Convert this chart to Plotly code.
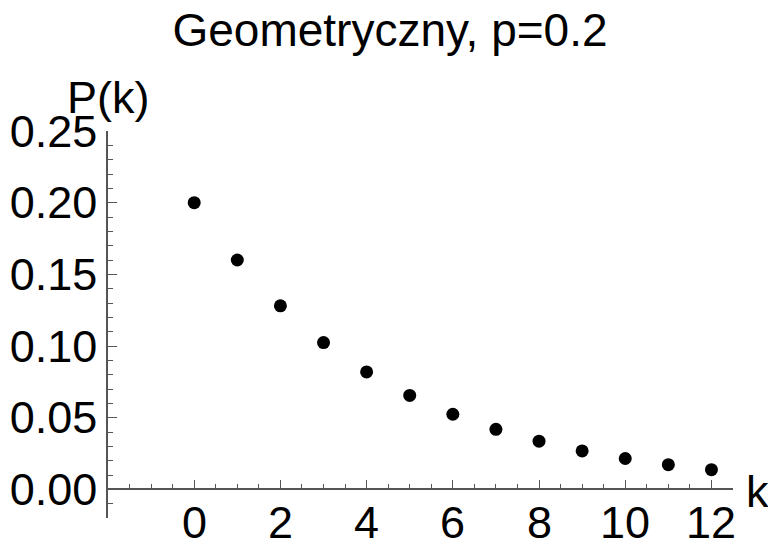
import plotly.graph_objects as go

# geometric distribution, p=0.2
k = [0, 1, 2, 3, 4, 5, 6, 7, 8, 9, 10, 11, 12]
pk = [0.2, 0.16, 0.128, 0.1024, 0.0819, 0.0655, 0.0524, 0.0419, 0.0336, 0.0268, 0.0215, 0.0172, 0.0137]

x_ticks = [0, 2, 4, 6, 8, 10, 12]
y_ticks = [0.00, 0.05, 0.10, 0.15, 0.20, 0.25]
y_tick_labels = ['0.00', '0.05', '0.10', '0.15', '0.20', '0.25']

x_range = [-2, 12.5]
y_range = [-0.02, 0.25]

font = 'Liberation Sans, Arial, sans-serif'
# the page body has an 8px margin, so the figure is drawn 8px smaller
W, H = 776 - 8, 544 - 8
M = dict(l=100, r=43, t=123, b=26)

fig = go.Figure()

fig.add_trace(
    go.Scatter(
        x=k,
        y=pk,
        mode='markers',
        marker=dict(color='black', size=13),
        showlegend=False,
    )
)

# x axis sits at y=0, expressed as a fraction of the plot height
x_axis_pos = (0 - y_range[0]) / (y_range[1] - y_range[0])
plot_h = H - M['t'] - M['b']

fig.update_layout(
    width=W,
    height=H,
    margin=M,
    paper_bgcolor='white',
    plot_bgcolor='white',
    font=dict(family=font, color='black', size=45),
    title=dict(
        text='Geometryczny, p=0.2',
        x=382 / W,
        xref='container',
        xanchor='center',
        y=1 - 22 / H,
        yref='container',
        yanchor='middle',
        font=dict(size=46),
    ),
    xaxis=dict(
        range=x_range,
        anchor='free',
        position=x_axis_pos,
        automargin=False,
        showgrid=False,
        zeroline=False,
        showline=True,
        linecolor='#555',
        linewidth=1.5,
        tickmode='array',
        tickvals=x_ticks,
        showticklabels=False,
        ticks='inside',
        ticklen=9,
        tickcolor='#555',
        tickwidth=1,
        minor=dict(dtick=0.5, tick0=0, ticks='inside', ticklen=5, tickcolor='#555', showgrid=False),
    ),
    yaxis=dict(
        range=y_range,
        automargin=False,
        showgrid=False,
        zeroline=False,
        showline=True,
        linecolor='#555',
        linewidth=1.5,
        tickmode='array',
        tickvals=y_ticks,
        ticktext=y_tick_labels,
        ticks='inside',
        ticklen=9,
        tickcolor='#555',
        tickwidth=1,
        minor=dict(dtick=0.01, tick0=0, ticks='inside', ticklen=5, tickcolor='#555', showgrid=False),
    ),
)

# x tick labels sit close under the axis line (axis crosses at y=0)
for v in x_ticks:
    fig.add_annotation(
        x=v, xref='x', xanchor='center',
        y=0, yref='y', yanchor='top', yshift=-6,
        text=str(v), showarrow=False, font=dict(size=45),
    )

# axis labels placed at the axis ends, as in the original
fig.add_annotation(
    x=0, xref='paper', xanchor='center',
    y=1 + (M['t'] - 89) / plot_h, yref='paper', yanchor='middle',
    text='P(k)', showarrow=False, font=dict(size=45),
)
fig.add_annotation(
    x=1, xref='paper', xanchor='left', xshift=11,
    y=0, yref='y', yanchor='middle', yshift=-2,
    text='k', showarrow=False, font=dict(size=45),
)

fig.write_html('out.html')
